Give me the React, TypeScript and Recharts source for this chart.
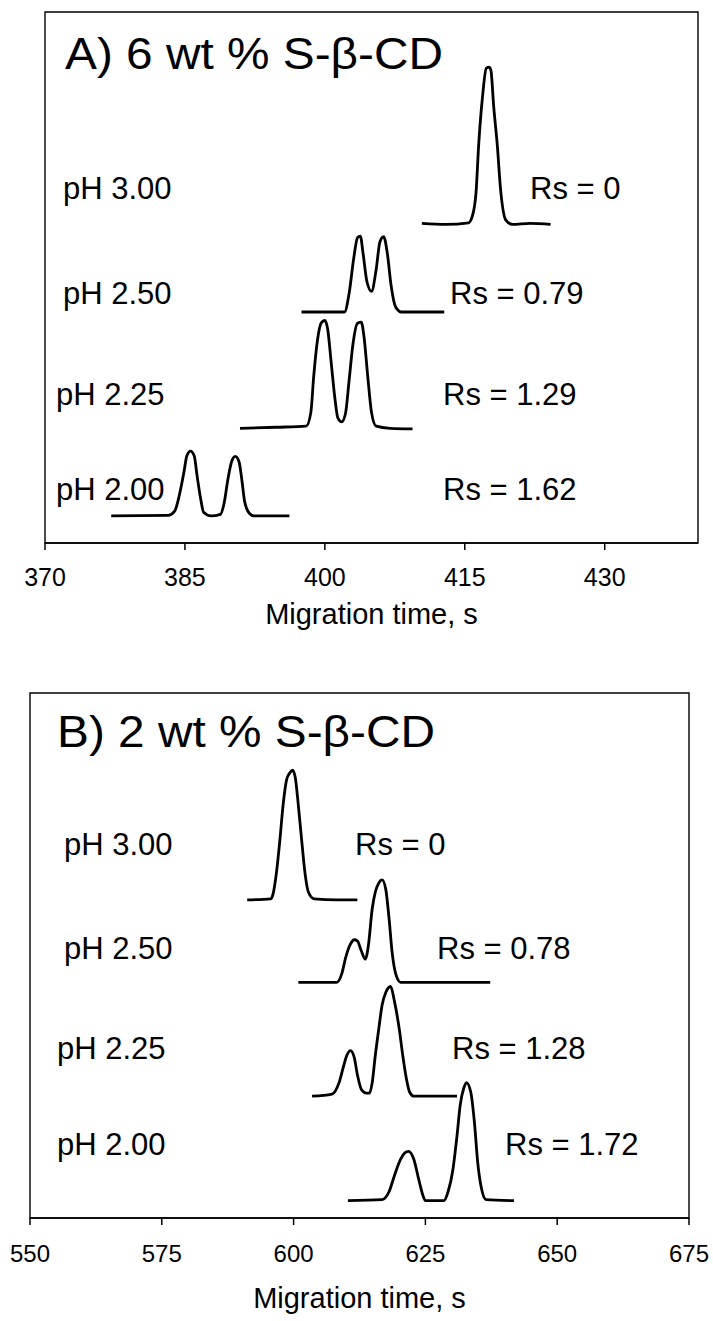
import { LineChart, Line, XAxis, YAxis, ReferenceArea } from 'recharts';

// Panel A: 6 wt % S-β-CD, migration time (s) vs detector signal (relative, stacked)
const ticksA = [370, 385, 400, 415, 430];
const a300Time = [410.4, 413.0, 415.4, 415.8, 416.2, 416.5, 416.9, 417.3, 417.6, 417.8, 418.1, 418.5, 418.8, 419.4, 420.1, 422.0, 424.2];
const a300Signal = [60.2, 60.0, 60.3, 61.5, 65.9, 75.3, 84.0, 89.4, 89.6, 89.0, 82.2, 74.6, 67.3, 60.8, 60.0, 60.2, 60.0];
const a250Time = [397.5, 402.1, 402.6, 403.1, 403.5, 403.8, 404.1, 404.5, 405.0, 405.5, 405.9, 406.3, 406.7, 407.1, 407.6, 408.2, 412.8];
const a250Signal = [43.5, 43.5, 47.0, 53.7, 57.5, 57.8, 54.5, 49.3, 47.4, 51.5, 56.7, 57.7, 54.5, 48.5, 44.4, 43.5, 43.5];
const a225Time = [390.9, 394.8, 398.0, 398.5, 398.8, 399.2, 399.6, 400.0, 400.3, 400.7, 401.1, 401.4, 401.8, 402.2, 402.6, 403.0, 403.5, 403.9, 404.2, 404.6, 405.0, 405.5, 407.0, 409.4];
const a225Signal = [21.6, 21.8, 22.0, 24.6, 31.3, 38.1, 41.4, 41.9, 40.3, 33.6, 26.9, 23.5, 22.8, 24.3, 30.6, 37.3, 41.4, 41.6, 38.8, 31.3, 24.6, 22.0, 21.6, 21.5];
const a200Time = [377.1, 383.2, 383.9, 384.4, 384.9, 385.2, 385.6, 386.0, 386.3, 386.7, 387.0, 387.8, 388.8, 389.2, 389.6, 390.0, 390.4, 390.8, 391.1, 391.4, 391.9, 392.4, 396.2];
const a200Signal = [5.1, 5.2, 6.0, 9.0, 13.4, 16.4, 17.3, 16.4, 12.7, 8.2, 5.8, 5.1, 5.4, 7.5, 11.9, 15.3, 16.3, 15.3, 11.9, 7.8, 5.6, 5.1, 5.1];

// Panel B: 2 wt % S-β-CD
const ticksB = [550, 575, 600, 625, 650, 675];
const b300Time = [591.2, 595.7, 596.1, 596.7, 597.4, 598.0, 598.7, 599.3, 599.8, 600.3, 600.9, 601.6, 602.2, 602.8, 603.9, 608.2, 612.1];
const b300Signal = [60.6, 60.8, 61.7, 65.4, 72.0, 78.6, 83.6, 84.8, 85.3, 84.0, 78.6, 71.2, 65.4, 62.1, 60.8, 60.6, 60.6];
const b250Time = [600.9, 608.2, 609.1, 609.9, 610.8, 611.5, 612.1, 612.8, 613.6, 614.2, 614.9, 615.5, 616.1, 616.8, 617.5, 618.1, 618.7, 619.4, 620.3, 637.3];
const b250Signal = [44.9, 44.9, 46.4, 49.7, 52.2, 53.0, 52.8, 51.0, 49.3, 52.0, 58.8, 62.1, 63.7, 64.4, 62.5, 57.1, 50.5, 46.4, 44.9, 44.9];
const b225Time = [603.5, 607.3, 608.6, 609.5, 610.1, 610.8, 611.5, 612.1, 612.9, 613.8, 614.4, 614.9, 615.5, 616.1, 616.8, 617.5, 618.4, 619.1, 620.1, 620.7, 621.4, 622.0, 622.8, 631.0];
const b225Signal = [23.2, 23.6, 25.7, 29.0, 31.0, 31.9, 30.6, 27.3, 24.4, 23.8, 23.8, 25.7, 31.0, 35.6, 40.6, 43.0, 44.1, 41.4, 35.6, 31.0, 26.5, 24.0, 23.2, 23.2];
const b200Time = [610.3, 616.8, 618.1, 619.2, 620.3, 621.1, 621.8, 622.8, 623.7, 624.6, 625.0, 628.5, 629.3, 630.2, 631.0, 631.6, 632.3, 632.8, 633.6, 634.3, 634.9, 635.6, 636.5, 641.8];
const b200Signal = [3.3, 3.5, 5.0, 8.3, 11.2, 12.4, 12.7, 11.2, 7.5, 4.1, 3.3, 3.3, 5.0, 9.1, 15.7, 21.5, 24.8, 25.8, 24.0, 18.2, 10.8, 5.8, 3.5, 3.3];

const phLabels = ['pH 3.00', 'pH 2.50', 'pH 2.25', 'pH 2.00'];
const rsLabelsA = ['Rs = 0', 'Rs = 0.79', 'Rs = 1.29', 'Rs = 1.62'];
const rsLabelsB = ['Rs = 0', 'Rs = 0.78', 'Rs = 1.28', 'Rs = 1.72'];

const FONT = '"Liberation Sans", Arial, Helvetica, sans-serif';

const toPoints = (t: number[], v: number[]) => t.map((x, i) => ({ t: x, v: v[i] }));

interface PanelProps {
  top: number;
  height: number;
  marginLeft: number;
  marginRight: number;
  marginTop: number;
  marginBottom: number;
  domain: [number, number];
  ticks: number[];
  traces: { t: number; v: number }[][];
  tickFont: number;
  tickMargin: number;
  labelOffset: number;
}

const CHART_W = 713;

function Panel(p: PanelProps) {
  return (
    <div style={{ position: 'absolute', left: 0, top: p.top }}>
      <LineChart
        width={CHART_W}
        height={p.height}
        margin={{ top: p.marginTop, right: p.marginRight, bottom: p.marginBottom, left: p.marginLeft }}
      >
        <XAxis
          type="number"
          dataKey="t"
          domain={p.domain}
          ticks={p.ticks}
          interval={0}
          allowDataOverflow
          height={90}
          tickSize={7}
          tickMargin={p.tickMargin}
          axisLine={{ stroke: '#000', strokeWidth: 1.5 }}
          tickLine={{ stroke: '#000', strokeWidth: 1.5 }}
          tick={{ fill: '#000', fontSize: p.tickFont }}
          label={{ value: 'Migration time, s', position: 'insideBottom', offset: p.labelOffset, fontSize: 29, fill: '#000' }}
        />
        <YAxis type="number" domain={[0, 100]} hide />
        <ReferenceArea x1={p.domain[0]} x2={p.domain[1]} y1={0} y2={100} fill="none" stroke="#000" strokeWidth={1.4} />
        {p.traces.map((d, i) => (
          <Line
            key={i}
            data={d}
            dataKey="v"
            type="monotone"
            stroke="#000"
            strokeWidth={2.8}
            dot={false}
            isAnimationActive={false}
          />
        ))}
      </LineChart>
    </div>
  );
}

export default function App() {
  const tracesA = [
    toPoints(a300Time, a300Signal),
    toPoints(a250Time, a250Signal),
    toPoints(a225Time, a225Signal),
    toPoints(a200Time, a200Signal),
  ];
  const tracesB = [
    toPoints(b300Time, b300Signal),
    toPoints(b250Time, b250Signal),
    toPoints(b225Time, b225Signal),
    toPoints(b200Time, b200Signal),
  ];

  const rowYA = [199, 304, 405, 500];
  const phXA = [63, 63, 56, 56];
  const rsXA = [530, 450, 443, 443];
  const rowYB = [855, 959, 1059, 1155];
  const phXB = [64, 64, 57, 57];
  const rsXB = [355, 437, 452, 505];

  return (
    <div style={{ position: 'relative', width: 713, height: 1321, fontFamily: FONT, background: '#fff' }}>
      <style>{'html, body { margin: 0; padding: 0; overflow: hidden; } svg { overflow: visible; }'}</style>
      <Panel
        top={0}
        height={640}
        marginTop={12}
        marginLeft={45}
        marginRight={CHART_W - 698}
        marginBottom={7}
        domain={[370, 440]}
        ticks={ticksA}
        traces={tracesA}
        tickFont={25}
        tickMargin={18}
        labelOffset={9}
      />
      <Panel
        top={680}
        height={641}
        marginTop={13}
        marginLeft={30}
        marginRight={CHART_W - 689}
        marginBottom={13}
        domain={[550, 675]}
        ticks={ticksB}
        traces={tracesB}
        tickFont={24}
        tickMargin={20}
        labelOffset={0}
      />
      <svg width={713} height={1321} style={{ position: 'absolute', left: 0, top: 0, pointerEvents: 'none' }}>
        <text x={65} y={69} fontSize={44} textLength={378} lengthAdjust="spacingAndGlyphs" fill="#000">A) 6 wt % S-β-CD</text>
        <text x={57} y={747} fontSize={44} textLength={378} lengthAdjust="spacingAndGlyphs" fill="#000">B) 2 wt % S-β-CD</text>
        {phLabels.map((s, i) => (
          <text key={'pa' + i} x={phXA[i]} y={rowYA[i]} fontSize={31} fill="#000">{s}</text>
        ))}
        {rsLabelsA.map((s, i) => (
          <text key={'ra' + i} x={rsXA[i]} y={rowYA[i]} fontSize={31} fill="#000">{s}</text>
        ))}
        {phLabels.map((s, i) => (
          <text key={'pb' + i} x={phXB[i]} y={rowYB[i]} fontSize={31} fill="#000">{s}</text>
        ))}
        {rsLabelsB.map((s, i) => (
          <text key={'rb' + i} x={rsXB[i]} y={rowYB[i]} fontSize={31} fill="#000">{s}</text>
        ))}
      </svg>
    </div>
  );
}
